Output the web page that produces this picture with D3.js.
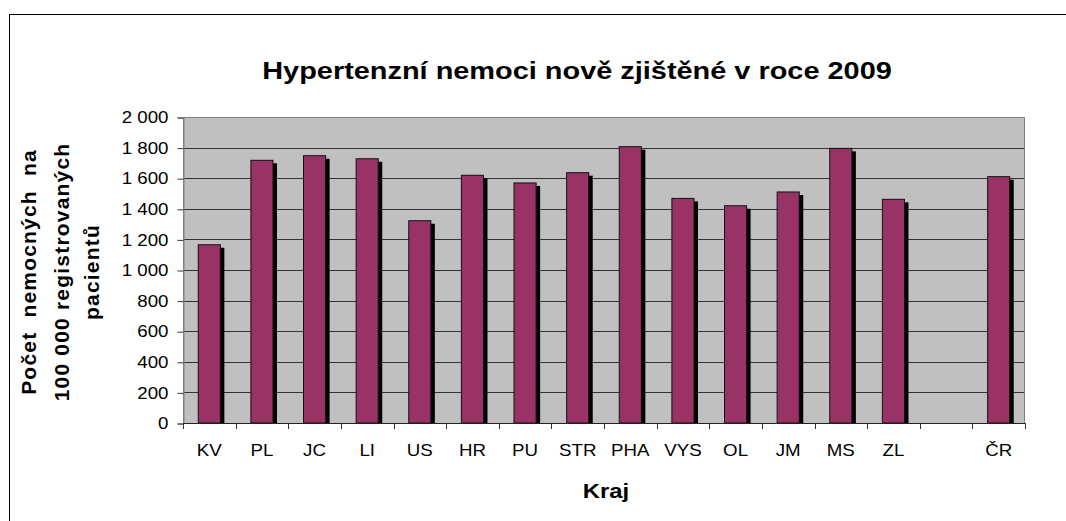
<!DOCTYPE html>
<html>
<head>
<meta charset="utf-8">
<script src="https://cdn.jsdelivr.net/npm/d3@7"></script>
<style>
  body { margin: 0; background: #fff; }
  text { font-family: Arial, "Liberation Sans", sans-serif; }
</style>
</head>
<body>
<div id="root"></div>
<script>
// kraje (empty slot before CR as in the original sheet)
var categories = ['KV', 'PL', 'JC', 'LI', 'US', 'HR', 'PU', 'STR', 'PHA', 'VYS', 'OL', 'JM', 'MS', 'ZL', '', 'ČR'];
var values = [1165, 1717, 1747, 1727, 1322, 1619, 1569, 1636, 1806, 1468, 1420, 1510, 1795, 1462, null, 1610];
var yTicks = [0, 200, 400, 600, 800, 1000, 1200, 1400, 1600, 1800, 2000];
var yTickLabels = ['0', '200', '400', '600', '800', '1 000', '1 200', '1 400', '1 600', '1 800', '2 000'];

var w = 1066, h = 521;
var plotLeft = 183, plotRight = 1025, plotTop = 117, plotBottom = 423;
var tickStretch = 1.17; // the original's text is a bit wider than plain Arial

var svg = d3.select('#root').append('svg')
  .attr('width', w)
  .attr('height', h);

// chart frame (runs off the right/bottom edge)
svg.append('rect')
  .attr('x', 9.5).attr('y', 14.5)
  .attr('width', 1100).attr('height', 560)
  .attr('fill', '#fff')
  .attr('stroke', '#000');

var xScale = d3.scaleBand()
  .domain(categories.map(function(d, i) { return i; }))
  .range([plotLeft, plotRight])
  .paddingInner(0.58)
  .paddingOuter(0.29);

var yScale = d3.scaleLinear()
  .domain([0, 2000])
  .range([plotBottom, plotTop]);

// plot area
svg.append('rect')
  .attr('x', plotLeft).attr('y', plotTop)
  .attr('width', plotRight - plotLeft)
  .attr('height', plotBottom - plotTop)
  .attr('fill', '#c0c0c0');

// gridlines
svg.selectAll('line.grid')
  .data(yTicks.slice(1)).enter()
  .append('line')
  .attr('class', 'grid')
  .attr('x1', plotLeft).attr('x2', plotRight)
  .attr('y1', function(d) { return Math.round(yScale(d)) + 0.5; })
  .attr('y2', function(d) { return Math.round(yScale(d)) + 0.5; })
  .attr('stroke', '#333');

svg.append('rect')
  .attr('x', plotLeft + 0.5).attr('y', plotTop + 0.5)
  .attr('width', plotRight - plotLeft - 1)
  .attr('height', plotBottom - plotTop)
  .attr('fill', 'none')
  .attr('stroke', '#808080');

var barData = values.map(function(v, i) { return {i: i, v: v}; })
  .filter(function(d) { return d.v !== null; });

// shadows
svg.selectAll('rect.shadow')
  .data(barData).enter()
  .append('rect')
  .attr('class', 'shadow')
  .attr('x', function(d) { return xScale(d.i) + 4; })
  .attr('y', function(d) { return yScale(d.v) + 3; })
  .attr('width', xScale.bandwidth())
  .attr('height', function(d) { return plotBottom - yScale(d.v) - 3; })
  .attr('fill', '#000');

// bars
svg.selectAll('rect.bar')
  .data(barData).enter()
  .append('rect')
  .attr('class', 'bar')
  .attr('x', function(d) { return xScale(d.i); })
  .attr('y', function(d) { return yScale(d.v); })
  .attr('width', xScale.bandwidth())
  .attr('height', function(d) { return plotBottom - yScale(d.v); })
  .attr('fill', '#993366')
  .attr('stroke', '#111')
  .attr('stroke-width', 1);

// y axis
var yAxis = d3.axisLeft(yScale)
  .tickValues(yTicks)
  .tickFormat(function(d, i) { return yTickLabels[i]; })
  .tickSize(6)
  .tickPadding(9);

var gy = svg.append('g')
  .attr('transform', 'translate(' + (plotLeft + 0.5) + ',0.5)')
  .call(yAxis);
gy.select('.domain').attr('stroke', '#808080');
gy.selectAll('.tick line').attr('stroke', '#333');
gy.selectAll('.tick text')
  .style('font-size', '16px')
  .attr('fill', '#000')
  .attr('x', -15 / tickStretch)
  .attr('transform', 'scale(' + tickStretch + ',1)');

// x axis: ticks at category boundaries
var step = xScale.step();
var gx = svg.append('g').attr('class', 'x-axis');
gx.append('line')
  .attr('x1', plotLeft).attr('x2', plotRight + 0.5)
  .attr('y1', plotBottom + 0.5).attr('y2', plotBottom + 0.5)
  .attr('stroke', '#222');
gx.selectAll('line.xtick')
  .data(d3.range(categories.length + 1)).enter()
  .append('line')
  .attr('class', 'xtick')
  .attr('x1', function(i) { return Math.round(plotLeft + i * step) + 0.5; })
  .attr('x2', function(i) { return Math.round(plotLeft + i * step) + 0.5; })
  .attr('y1', plotBottom).attr('y2', plotBottom + 6)
  .attr('stroke', '#333');
gx.selectAll('text.xlabel')
  .data(categories).enter()
  .append('text')
  .attr('class', 'xlabel')
  .attr('transform', function(d, i) {
    return 'translate(' + (xScale(i) + xScale.bandwidth() / 2) + ',456) scale(' + tickStretch + ',1)';
  })
  .attr('text-anchor', 'middle')
  .style('font-size', '16px')
  .text(function(d) { return d; });

// titles
svg.append('text')
  .attr('transform', 'translate(577,79) scale(1.257,1)')
  .attr('text-anchor', 'middle')
  .style('font-size', '23px')
  .style('font-weight', 'bold')
  .text('Hypertenzní nemoci nově zjištěné v roce 2009');

svg.append('text')
  .attr('transform', 'translate(606,498) scale(1.19,1)')
  .attr('text-anchor', 'middle')
  .style('font-size', '20px')
  .style('font-weight', 'bold')
  .text('Kraj');

var yTitle = ['Počet  nemocných  na', '100 000 registrovaných', 'pacientů'];
var yTitleX = [36, 69, 99];
svg.selectAll('text.ytitle')
  .data(yTitle).enter()
  .append('text')
  .attr('class', 'ytitle')
  .attr('transform', function(d, i) { return 'translate(' + yTitleX[i] + ',272) rotate(-90)'; })
  .attr('text-anchor', 'middle')
  .style('font-size', '21px')
  .style('font-weight', 'bold')
  .style('letter-spacing', '1.2px')
  .style('white-space', 'pre')
  .text(function(d) { return d; });
</script>
</body>
</html>
